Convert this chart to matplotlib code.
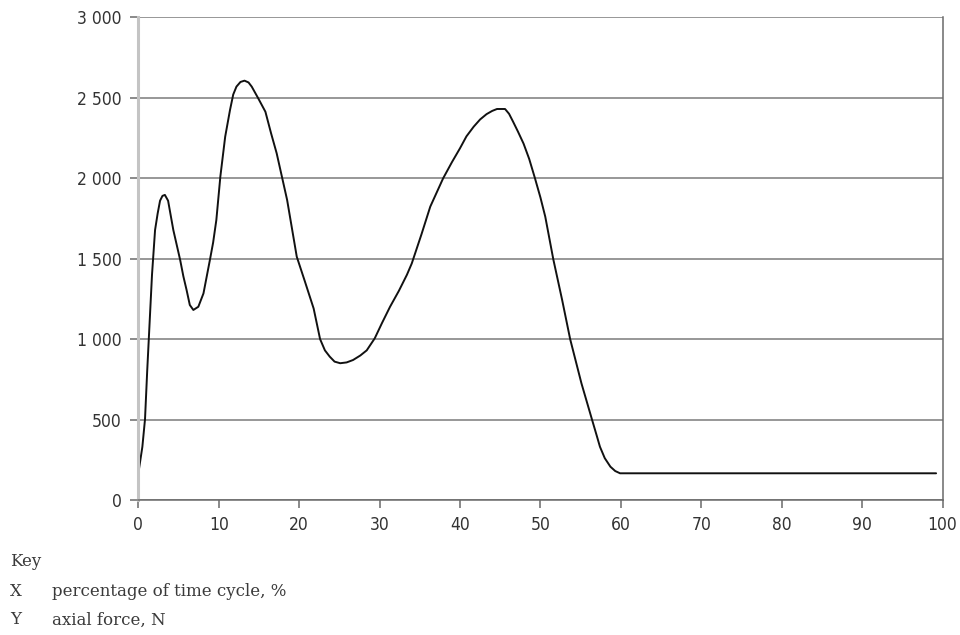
import matplotlib
matplotlib.use("Agg")
import matplotlib.pyplot as plt
from matplotlib.ticker import FuncFormatter

pct_cycle = [0.0, 0.5, 0.83, 1.1, 1.35, 1.7, 2.08, 2.4, 2.7, 3.0, 3.3, 3.7, 4.35,
             5.2, 5.6, 6.0, 6.4, 6.84, 7.46, 8.1, 8.9, 9.3, 9.7, 10.2, 10.8,
             11.4, 11.8, 12.2, 12.7, 13.2, 13.7, 14.1, 14.9, 15.8, 16.5, 17.2,
             18.5, 19.7, 20.7, 21.8, 22.6, 23.2, 23.8, 24.4, 25.1, 25.9, 26.7,
             27.6, 28.4, 29.4, 30.3, 31.3, 32.4, 33.4, 34.0, 35.2, 36.3, 37.9,
             39.0, 40.0, 40.8, 41.7, 42.5, 43.3, 44.0, 44.6, 45.6, 46.1, 46.6,
             47.2, 47.9, 48.6, 49.3, 50.0, 50.6, 51.6, 52.7, 53.7, 55.1, 56.4,
             57.0, 57.4, 58.0, 58.7, 59.3, 59.9, 99.2]
axial_force = [166, 330, 502, 800, 1050, 1400, 1678, 1780, 1860, 1890, 1896, 1860, 1678,
               1492, 1390, 1305, 1212, 1181, 1201, 1284, 1492, 1600, 1740, 2011, 2258,
               2424, 2520, 2569, 2598, 2606, 2595, 2569, 2497, 2413, 2280, 2155,
               1865, 1512, 1360, 1190, 1000, 930, 891, 860, 850, 855, 870,
               898, 930, 1005, 1100, 1201, 1300, 1400, 1470, 1650, 1823, 1999,
               2100, 2186, 2260, 2320, 2365, 2398, 2418, 2430, 2430, 2400, 2351,
               2290, 2215, 2120, 2003, 1880, 1761, 1496, 1243, 999, 725, 502,
               400, 331, 260, 207, 180, 166, 166]

x_ticks = [0, 10, 20, 30, 40, 50, 60, 70, 80, 90, 100]
y_ticks = [0, 500, 1000, 1500, 2000, 2500, 3000]

key_rows = [("X", "percentage of time cycle, %"), ("Y", "axial force, N")]

fig = plt.figure(figsize=(9.6, 6.35), dpi=100)
ax = fig.add_axes([0.1441, 0.2126, 0.8377, 0.7602])

ax.plot(pct_cycle, axial_force, color="#111111", linewidth=1.4,
        solid_joinstyle="round", solid_capstyle="round")

ax.set_xlim(0, 100)
ax.set_ylim(0, 3000)
ax.set_xticks(x_ticks)
ax.set_yticks(y_ticks)
ax.yaxis.set_major_formatter(FuncFormatter(lambda v, _: f"{int(v):,}".replace(",", " ")))

ax.grid(axis="y", color="#7a7a7a", linewidth=1.1)
ax.set_axisbelow(True)

ax.spines["top"].set_visible(False)
ax.spines["left"].set_color("#c4c4c4")
ax.spines["left"].set_linewidth(2.2)
ax.spines["bottom"].set_color("#6a6a6a")
ax.spines["bottom"].set_linewidth(1.1)
ax.spines["right"].set_color("#6a6a6a")
ax.spines["right"].set_linewidth(1.1)

ax.tick_params(axis="y", length=6, width=1.1, color="#6a6a6a", pad=6,
               labelsize=12.5, labelcolor="#333333")
ax.tick_params(axis="x", length=5.5, width=1.1, color="#6a6a6a", pad=6,
               labelsize=12.5, labelcolor="#333333")
for lbl in ax.get_xticklabels() + ax.get_yticklabels():
    lbl.set_family(["DejaVu Sans"])
    lbl.set_stretch("condensed")

# key below the chart
serif = ["DejaVu Serif"]
fig.text(10 / 960, 1 - 562 / 635, "Key", family=serif, fontsize=12,
         color="#3a3a3a", va="center")
for i, (sym, desc) in enumerate(key_rows):
    yy = 1 - (591 + 29 * i) / 635
    fig.text(10 / 960, yy, sym, family=serif, fontsize=12, color="#3a3a3a", va="center")
    fig.text(52 / 960, yy, desc, family=serif, fontsize=12, color="#3a3a3a", va="center")

fig.savefig("out.png", dpi=100)
